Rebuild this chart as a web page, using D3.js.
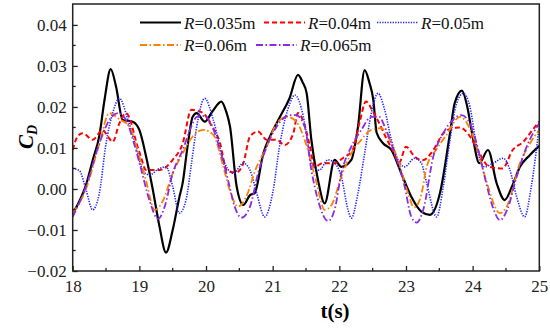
<!DOCTYPE html>
<html><head><meta charset="utf-8">
<script src="https://cdn.jsdelivr.net/npm/d3@7"></script>
</head><body style="margin:0;background:#fff">
<svg id="c" width="550" height="330" font-family="Liberation Serif"></svg>
<script>
const xTicks = [18,19,20,21,22,23,24,25];
const yTicks = [-0.02,-0.01,0.00,0.01,0.02,0.03,0.04];
const yTickLabels = ["\u22120.02","\u22120.01","0.00","0.01","0.02","0.03","0.04"];
const seriesNames = ["0.035m","0.04m","0.05m","0.06m","0.065m"];

const t035 = [18.0,18.1,18.2,18.3,18.4,18.48,18.57,18.65,18.75,18.9,19.0,19.1,19.2,19.3,19.4,19.5,19.6,19.65,19.72,19.8,19.86,19.98,20.1,20.23,20.3,20.36,20.46,20.56,20.66,20.73,20.86,20.96,21.11,21.25,21.38,21.45,21.51,21.58,21.68,21.78,21.93,22.03,22.18,22.28,22.38,22.45,22.51,22.56,22.66,22.78,22.93,23.08,23.23,23.36,23.51,23.66,23.73,23.84,23.92,24.0,24.1,24.23,24.36,24.48,24.6,24.71,24.86,25.0];
const cd035 = [-0.006,-0.003,0.001,0.007,0.013,0.022,0.0292,0.025,0.0168,0.0164,0.0144,0.008,0.0,-0.009,-0.0155,-0.010,-0.002,0.0015,0.010,0.0176,0.0185,0.0164,0.019,0.0213,0.019,0.0152,0.0006,-0.0039,-0.0015,-0.001,0.0087,0.0128,0.0176,0.022,0.0278,0.026,0.0233,0.012,0.0022,-0.0035,0.0071,0.0054,0.0071,0.0152,0.029,0.026,0.0217,0.0137,0.0111,0.0095,0.0038,-0.0019,-0.0055,-0.0063,-0.001,0.0136,0.0209,0.024,0.020,0.0128,0.0063,0.0095,0.0014,-0.0027,0.001,0.0054,0.0083,0.0105];

const t04 = [18.0,18.08,18.15,18.3,18.45,18.52,18.6,18.7,18.8,18.88,18.93,19.02,19.1,19.3,19.5,19.65,19.78,19.96,20.06,20.21,20.31,20.45,20.56,20.66,20.78,20.91,21.06,21.18,21.31,21.38,21.48,21.56,21.63,21.75,21.93,22.05,22.2,22.3,22.4,22.5,22.6,22.7,22.8,22.9,23.0,23.13,23.25,23.41,23.56,23.7,23.81,23.96,24.1,24.25,24.45,24.6,24.76,24.9,25.0];
const cd04 = [0.0095,0.013,0.0136,0.012,0.0144,0.013,0.0115,0.016,0.0185,0.016,0.0128,0.008,0.0046,0.0046,0.0071,0.0111,0.0193,0.0185,0.016,0.0112,0.0046,0.004,0.0063,0.0128,0.014,0.012,0.012,0.0107,0.0136,0.0185,0.0155,0.0103,0.0054,0.0063,0.0063,0.0075,0.0095,0.016,0.0213,0.019,0.016,0.0125,0.0095,0.0065,0.0103,0.0079,0.007,0.0095,0.0136,0.0148,0.015,0.0128,0.0087,0.0054,0.005,0.0095,0.0115,0.0144,0.0165];

const t05 = [18.0,18.1,18.2,18.3,18.4,18.5,18.6,18.7,18.83,18.95,19.05,19.15,19.3,19.4,19.5,19.6,19.7,19.78,19.86,19.98,20.11,20.26,20.41,20.56,20.66,20.76,20.88,21.0,21.11,21.26,21.33,21.46,21.52,21.58,21.7,21.83,21.93,22.03,22.13,22.18,22.28,22.38,22.48,22.58,22.68,22.78,22.88,22.98,23.13,23.23,23.31,23.46,23.56,23.66,23.76,23.86,23.96,24.06,24.18,24.31,24.46,24.56,24.66,24.78,24.88,25.0];
const cd05 = [0.005,0.0045,-0.0002,-0.0051,-0.001,0.0111,0.0185,0.0221,0.0168,0.0103,0.0046,0.0034,0.005,0.0054,0.0006,-0.0059,-0.0027,0.006,0.0152,0.0221,0.0168,0.0071,0.0038,0.0063,0.0046,-0.001,-0.0068,-0.001,0.0111,0.0209,0.0229,0.0176,0.012,0.0063,0.0046,0.0071,0.0063,0.003,-0.0051,-0.0071,-0.001,0.0087,0.0185,0.0233,0.0193,0.012,0.0071,0.0054,0.0075,0.0063,0.0014,-0.0068,0.0006,0.012,0.0209,0.0233,0.020,0.0103,0.0054,0.0063,0.0075,0.0046,-0.0019,-0.0068,0.0006,0.0155];

const t06 = [18.0,18.2,18.4,18.55,18.7,18.85,19.0,19.1,19.23,19.35,19.5,19.65,19.8,19.96,20.11,20.26,20.37,20.48,20.6,20.75,20.91,21.06,21.21,21.35,21.5,21.65,21.78,21.88,22.03,22.18,22.33,22.48,22.63,22.73,22.88,23.03,23.12,23.22,23.31,23.45,23.6,23.81,23.95,24.06,24.2,24.41,24.52,24.71,24.86,25.0];
const cd06 = [-0.0059,0.0,0.011,0.0185,0.017,0.0152,0.0079,0.002,-0.0051,-0.003,0.0038,0.0087,0.0128,0.0144,0.0132,0.0054,-0.001,-0.0043,-0.002,0.005,0.0103,0.016,0.0176,0.0165,0.011,0.002,-0.0051,-0.004,0.003,0.0087,0.012,0.0144,0.0148,0.0128,0.0071,-0.001,-0.0045,-0.002,0.0054,0.0095,0.013,0.0176,0.015,0.0103,0.0022,-0.0059,-0.004,0.0063,0.0111,0.0144];

const t065 = [18.0,18.2,18.4,18.55,18.68,18.8,18.92,19.03,19.15,19.28,19.38,19.5,19.65,19.8,19.86,19.98,20.06,20.21,20.33,20.43,20.53,20.66,20.78,20.91,21.06,21.26,21.35,21.48,21.58,21.68,21.83,21.93,22.03,22.18,22.33,22.48,22.6,22.68,22.83,22.98,23.08,23.16,23.26,23.41,23.56,23.7,23.83,23.96,24.06,24.18,24.3,24.41,24.52,24.66,24.81,25.0];
const cd065 = [-0.0068,0.0006,0.0111,0.0168,0.0185,0.0168,0.0111,0.0046,-0.0027,-0.0073,-0.0043,0.0038,0.0095,0.016,0.0176,0.0178,0.0164,0.0095,0.0022,-0.0043,-0.007,-0.0043,0.0038,0.0103,0.0152,0.018,0.018,0.0152,0.0046,-0.0027,-0.0078,-0.005,0.0038,0.0103,0.0144,0.0176,0.0176,0.0152,0.0087,0.0006,-0.0068,-0.0082,-0.005,0.0079,0.0136,0.0168,0.018,0.016,0.0111,0.003,-0.0043,-0.0076,-0.005,0.003,0.0103,0.016];

const FONT = "Liberation Serif";
const svg = d3.select("#c");
const L = 72.7, R = 539.3, T = 4, B = 271;
const x = d3.scaleLinear().domain([18,25]).range([L,R]);
const y = d3.scaleLinear().domain([-0.02,0.0451]).range([B,T]);

const series = [
  {name:seriesNames[0], t:t035, v:cd035, color:"#000000", dash:null, w:2.2},
  {name:seriesNames[1], t:t04, v:cd04, color:"#ff0000", dash:"5,3", w:2},
  {name:seriesNames[2], t:t05, v:cd05, color:"#2222ff", dash:"1.3,1.3", w:1.6},
  {name:seriesNames[3], t:t06, v:cd06, color:"#ff7f00", dash:"7,2.5,1.5,2.5", w:1.8},
  {name:seriesNames[4], t:t065, v:cd065, color:"#8a2be2", dash:"7,2.5,1.5,2.5", w:1.8}
];

const line = d3.line().x(d=>x(d[0])).y(d=>y(d[1])).curve(d3.curveMonotoneX);
const gLines = svg.append("g");
series.forEach(s=>{
  gLines.append("path")
    .attr("d", line(s.t.map((t,i)=>[t,s.v[i]])))
    .attr("fill","none").attr("stroke",s.color).attr("stroke-width",s.w)
    .attr("stroke-dasharray",s.dash).attr("stroke-linejoin","round");
});

svg.append("rect").attr("x",L).attr("y",T).attr("width",R-L).attr("height",B-T)
  .attr("fill","none").attr("stroke","#222").attr("stroke-width",1.5);

const xAxis = d3.axisBottom(x).tickValues(xTicks).tickSize(-5).tickPadding(9).tickFormat(d3.format("d"));
const gx = svg.append("g").attr("transform",`translate(0,${B})`).call(xAxis);
gx.attr("font-family",FONT).attr("font-size",17);
gx.select(".domain").remove();
gx.selectAll("line").attr("stroke","#222").attr("stroke-width",1.3);
gx.selectAll("text").attr("font-family",FONT).style("font-family",FONT).attr("font-size",17).attr("fill","#222");
const xMinor = d3.range(18.5,25,1);
svg.append("g").selectAll("line").data(xMinor).join("line")
  .attr("x1",d=>x(d)).attr("x2",d=>x(d)).attr("y1",B).attr("y2",B-3)
  .attr("stroke","#222").attr("stroke-width",1.3);

const yAxis = d3.axisLeft(y).tickValues(yTicks).tickSize(-5).tickPadding(6).tickFormat((d,i)=>yTickLabels[i]);
const gy = svg.append("g").attr("transform",`translate(${L},0)`).call(yAxis);
gy.attr("font-family",FONT).attr("font-size",17);
gy.select(".domain").remove();
gy.selectAll("line").attr("stroke","#222").attr("stroke-width",1.3);
gy.selectAll("text").attr("font-family",FONT).style("font-family",FONT).attr("font-size",17).attr("fill","#222");
const yMinor = [-0.015,-0.005,0.005,0.015,0.025,0.035];
svg.append("g").selectAll("line").data(yMinor).join("line")
  .attr("x1",L).attr("x2",L+3).attr("y1",d=>y(d)).attr("y2",d=>y(d))
  .attr("stroke","#222").attr("stroke-width",1.3);

const xt = svg.append("text").attr("x",335).attr("y",318).attr("text-anchor","middle").attr("font-family",FONT).style("font-family",FONT)
  .attr("font-size",21).attr("font-weight","bold").text("t(s)");
const yl = svg.append("text").attr("transform","translate(33,137) rotate(-90)").attr("font-family",FONT).style("font-family",FONT)
  .attr("text-anchor","middle").attr("font-size",21).attr("font-weight","bold").attr("font-style","italic");
yl.append("tspan").text("C");
yl.append("tspan").attr("font-size",14).attr("dy",4).text("D");

const legPos = [[140,22.5],[264,22.5],[377,22.5],[140,45],[256,45]];
series.forEach((s,i)=>{
  const [lx,ly] = legPos[i];
  svg.append("line").attr("x1",lx).attr("x2",lx+41).attr("y1",ly).attr("y2",ly)
    .attr("stroke",s.color).attr("stroke-width",s.w).attr("stroke-dasharray",s.dash);
  const tx = svg.append("text").attr("x",lx+44).attr("y",ly+6).attr("font-family",FONT).style("font-family",FONT).attr("font-size",17).attr("fill","#111");
  tx.append("tspan").attr("font-style","italic").text("R");
  tx.append("tspan").text("=" + s.name);
});
</script>
</body></html>
